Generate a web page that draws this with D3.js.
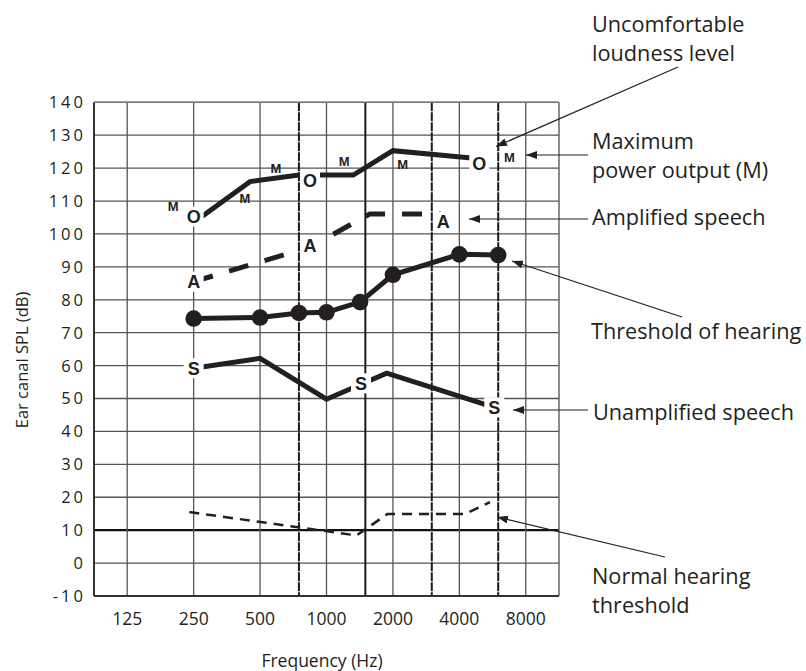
<!DOCTYPE html>
<html><head><meta charset="utf-8">
<script src="https://cdn.jsdelivr.net/npm/d3@7"></script>
<style>body{margin:0;background:#fff}svg{display:block}</style>
</head><body>
<svg id="c" width="806" height="671"></svg>
<script>
// ---- data ----
const freqTicks = [125, 250, 500, 1000, 2000, 4000, 8000];
const freqTickLabels = ["125", "250", "500", "1000", "2000", "4000", "8000"];
const midFreqs = [750, 1500, 3000, 6000];
const dbTicks = [140, 130, 120, 110, 100, 90, 80, 70, 60, 50, 40, 30, 20, 10, 0, -10];

const thresholdFreq = [250, 500, 750, 1000, 1420, 2000, 4000, 6000];
const thresholdDb   = [74.3, 74.6, 76, 76.2, 79.3, 87.6, 93.8, 93.6];

const mpoFreq = [250, 450, 750, 1322, 2000, 4167, 4710];
const mpoDb   = [103.5, 115.9, 117.9, 117.9, 125.3, 123.3, 123];
const mLabelFreq = [202, 427, 590, 1204, 2214, 6736];
const mLabelDb   = [108.3, 110.8, 119.9, 122, 121.3, 123.2];

const uclFreq = [250, 842, 4925];
const uclDb   = [105.3, 116.2, 121.5];

const ampFreq = [250, 842, 1574, 3300];
const ampDb   = [85.5, 96, 106.1, 106.1];
const ampLabelFreq = [250, 842, 3383];
const ampLabelDb   = [85.5, 96.6, 103.7];

const unampFreq = [250, 500, 1000, 1874, 5762];
const unampDb   = [59.2, 62.2, 49.8, 57.7, 47.3];
const unampLabelFreq = [250, 1433, 5762];
const unampLabelDb   = [59.2, 54.6, 47.3];

const normalFreq = [239, 1370, 1886, 4243, 5507];
const normalDb   = [15.5, 8.4, 14.9, 14.9, 18.5];

// ---- scales ----
const L = 94, R = 559, T = 102.3, B = 596;
const x = d3.scaleLog().base(2).domain([125 / Math.SQRT2, 8000 * Math.SQRT2]).range([L, R]);
const y = d3.scaleLinear().domain([-10, 140]).range([B, T]);
const ink = "#231f20";
const svg = d3.select("#c");

const defs = svg.append("defs");
defs.append("marker").attr("id", "arr").attr("markerUnits", "userSpaceOnUse")
  .attr("markerWidth", 12).attr("markerHeight", 9).attr("refX", 11).attr("refY", 4)
  .attr("orient", "auto")
  .append("path").attr("d", "M0,0 L11,4 L0,8 Z").attr("fill", ink);

// ---- grid ----
const g = svg.append("g");
g.selectAll("line.h").data(dbTicks).join("line")
  .attr("x1", L).attr("x2", R).attr("y1", d => y(d)).attr("y2", d => y(d))
  .attr("stroke", d => d === 10 ? "#111" : "#555")
  .attr("stroke-width", d => d === 10 ? 2.2 : 1.3);
g.selectAll("line.v").data(freqTicks).join("line")
  .attr("x1", d => x(d)).attr("x2", d => x(d)).attr("y1", T).attr("y2", B)
  .attr("stroke", "#555").attr("stroke-width", 1.3);
g.selectAll("line.m").data(midFreqs).join("line")
  .attr("x1", d => x(d)).attr("x2", d => x(d)).attr("y1", T).attr("y2", B)
  .attr("stroke", "#1a1a1a").attr("stroke-width", 2)
  .attr("stroke-dasharray", d => d === 1500 ? null : "9,1");
// borders
g.append("line").attr("x1", L).attr("x2", L).attr("y1", T).attr("y2", B).attr("stroke", "#333").attr("stroke-width", 2);
g.append("line").attr("x1", R).attr("x2", R).attr("y1", T).attr("y2", B).attr("stroke", "#666").attr("stroke-width", 1.5);
g.append("line").attr("x1", L).attr("x2", R).attr("y1", B).attr("y2", B).attr("stroke", "#333").attr("stroke-width", 2);
g.append("line").attr("x1", L).attr("x2", R).attr("y1", T).attr("y2", T).attr("stroke", "#777").attr("stroke-width", 1.5);

// ---- axis labels ----
svg.append("g").selectAll("text").data(dbTicks).join("text")
  .attr("x", 86).attr("y", d => y(d)).attr("dy", "0.36em")
  .attr("text-anchor", "end").attr("font-family", "Open Sans").attr("font-size", 16.5)
  .style("letter-spacing", "3px").attr("fill", ink).text(d => d);
svg.append("g").selectAll("text").data(freqTicks).join("text")
  .attr("x", d => x(d)).attr("y", 625).attr("text-anchor", "middle")
  .attr("font-family", "Open Sans").attr("font-size", 17.5).attr("fill", ink)
  .text((d, i) => freqTickLabels[i]);
svg.append("text").attr("transform", "translate(28,360) rotate(-90)")
  .attr("text-anchor", "middle").attr("font-family", "Open Sans").attr("font-size", 16.5)
  .attr("fill", ink).text("Ear canal SPL (dB)");
svg.append("text").attr("x", 322).attr("y", 667).attr("text-anchor", "middle")
  .attr("font-family", "Open Sans").attr("font-size", 17.5).attr("fill", ink).text("Frequency (Hz)");

// ---- series ----
const line = d3.line().x(d => x(d[0])).y(d => y(d[1]));
const zip = (a, b) => a.map((v, i) => [v, b[i]]);
const marks = svg.append("g");

marks.append("path").attr("d", line(zip(normalFreq, normalDb)))
  .attr("fill", "none").attr("stroke", ink).attr("stroke-width", 2.5).attr("stroke-dasharray", "10,7");
marks.append("path").attr("d", line(zip(mpoFreq, mpoDb)))
  .attr("fill", "none").attr("stroke", ink).attr("stroke-width", 5);
marks.append("path").attr("d", line(zip(ampFreq, ampDb)))
  .attr("fill", "none").attr("stroke", ink).attr("stroke-width", 5).attr("stroke-dasharray", "20,17");
marks.append("path").attr("d", line(zip(unampFreq, unampDb)))
  .attr("fill", "none").attr("stroke", ink).attr("stroke-width", 5);
marks.append("path").attr("d", line(zip(thresholdFreq, thresholdDb)))
  .attr("fill", "none").attr("stroke", ink).attr("stroke-width", 5);
marks.selectAll("circle").data(zip(thresholdFreq, thresholdDb)).join("circle")
  .attr("cx", d => x(d[0])).attr("cy", d => y(d[1])).attr("r", 8.3).attr("fill", ink);

function letters(fs, ds, ch, size, box) {
  const gg = svg.append("g");
  const pts = zip(fs, ds);
  if (box) gg.selectAll("rect").data(pts).join("rect")
    .attr("x", d => x(d[0]) - box / 2).attr("y", d => y(d[1]) - box / 2)
    .attr("width", box).attr("height", box).attr("fill", "#fff");
  gg.selectAll("text").data(pts).join("text")
    .attr("x", d => x(d[0])).attr("y", d => y(d[1])).attr("dy", "0.36em")
    .attr("text-anchor", "middle").attr("font-family", "Liberation Sans, Arial")
    .attr("font-weight", "bold").attr("font-size", size).attr("fill", ink).text(ch);
}
letters(uclFreq, uclDb, "O", 18, 20);
letters(ampLabelFreq, ampLabelDb, "A", 18, 20);
letters(unampLabelFreq, unampLabelDb, "S", 18, 20);
letters(mLabelFreq, mLabelDb, "M", 13, 0);

// ---- annotations ----
const ann = svg.append("g").attr("font-family", "Open Sans").attr("font-size", 21.7).attr("fill", ink);
const notes = [
  { lines: ["Uncomfortable", "loudness level"], x: 592, y: 32 },
  { lines: ["Maximum", "power output (M)"], x: 592, y: 149 },
  { lines: ["Amplified speech"], x: 592, y: 225 },
  { lines: ["Threshold of hearing"], x: 591, y: 339 },
  { lines: ["Unamplified speech"], x: 593, y: 420 },
  { lines: ["Normal hearing", "threshold"], x: 592, y: 584 }
];
notes.forEach(n => {
  const t = ann.append("text").attr("x", n.x).attr("y", n.y);
  n.lines.forEach((s, i) => t.append("tspan").attr("x", n.x).attr("dy", i ? 28.5 : 0).text(s));
});
const arrows = [
  [678, 67, 496, 146.5],
  [588, 155, 526, 155],
  [588, 219, 469, 219],
  [682, 317, 512, 261],
  [588, 410, 513, 410],
  [665, 557, 497, 517]
];
svg.append("g").selectAll("line").data(arrows).join("line")
  .attr("x1", d => d[0]).attr("y1", d => d[1]).attr("x2", d => d[2]).attr("y2", d => d[3])
  .attr("stroke", ink).attr("stroke-width", 1.2).attr("marker-end", "url(#arr)");
</script>
</body></html>
